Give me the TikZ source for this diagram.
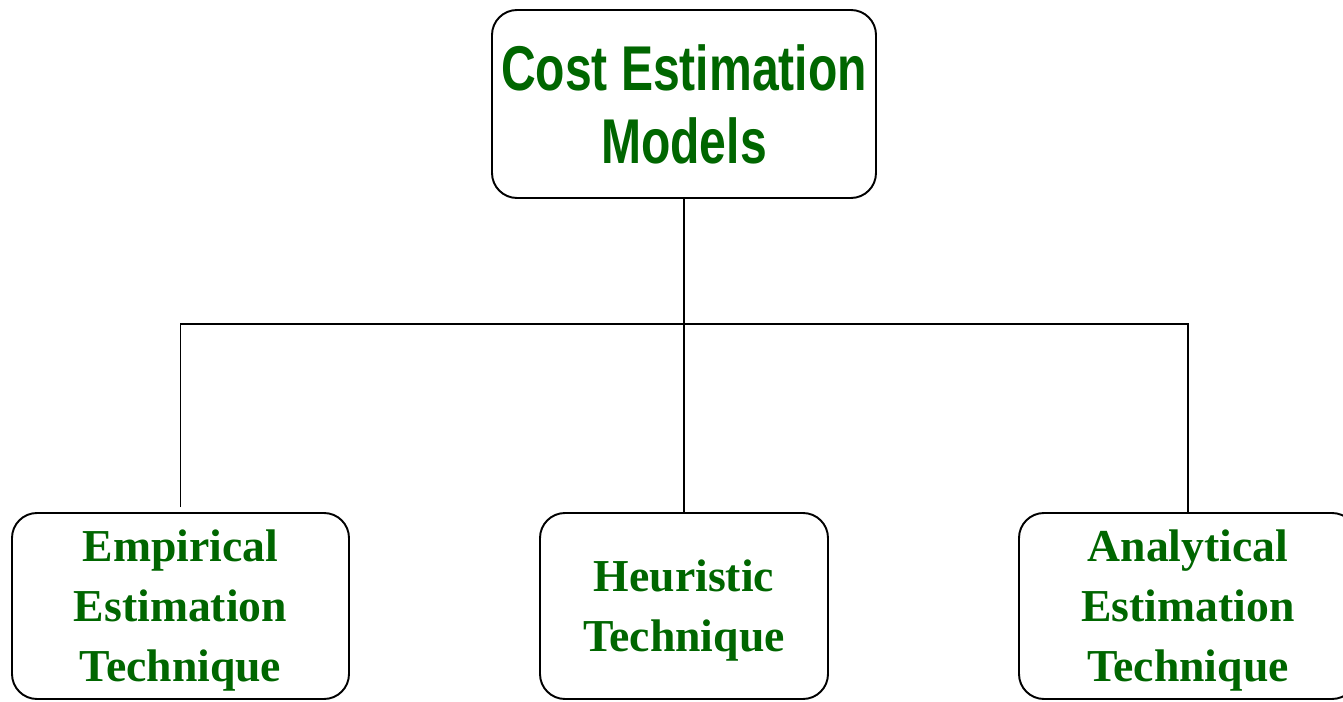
\documentclass[tikz,border=0pt]{standalone}
\usepackage{fontspec}
\setmainfont{Liberation Serif}
\newfontfamily\headfont[FakeStretch=0.76]{Liberation Sans}
\definecolor{textgreen}{RGB}{0,102,0}
\newcommand{\toplift}{\rule{0pt}{0.82cm}}
\begin{document}
\begin{tikzpicture}[
    box/.style={draw, line width=1.1pt, rounded corners=0.5cm, align=center, text=textgreen, inner sep=0pt},
    topbox/.style={box, minimum width=7.68cm, minimum height=3.76cm, font=\headfont\bfseries\fontsize{36}{41.5}\selectfont},
    subbox/.style={box, minimum height=3.72cm, font=\bfseries\fontsize{26}{34}\selectfont},
    link/.style={line width=1.1pt}
  ]
    \useasboundingbox (0,0) rectangle (26.86,14.02);

    % Caja principal
    \node[topbox] (models) at (13.68,11.94) {Cost Estimation\\Models};

    % Tecnicas
    \node[subbox, minimum width=6.74cm] (empirical) at (3.61,1.9) {\toplift Empirical\\Estimation\\Technique};
    \node[subbox, minimum width=5.76cm] (heuristic) at (13.68,1.9) {\toplift Heuristic\\Technique};
    \node[subbox, minimum width=6.76cm] (analytical) at (23.76,1.9) {\toplift Analytical\\Estimation\\Technique};

    % Conexiones
    \coordinate (split) at (13.68,7.54);
    \draw[link] (models.south) -- (heuristic.north);
    \draw[link, shorten <=0.1cm] (empirical.north) |- (split) -| (analytical.north);
\end{tikzpicture}
\end{document}
